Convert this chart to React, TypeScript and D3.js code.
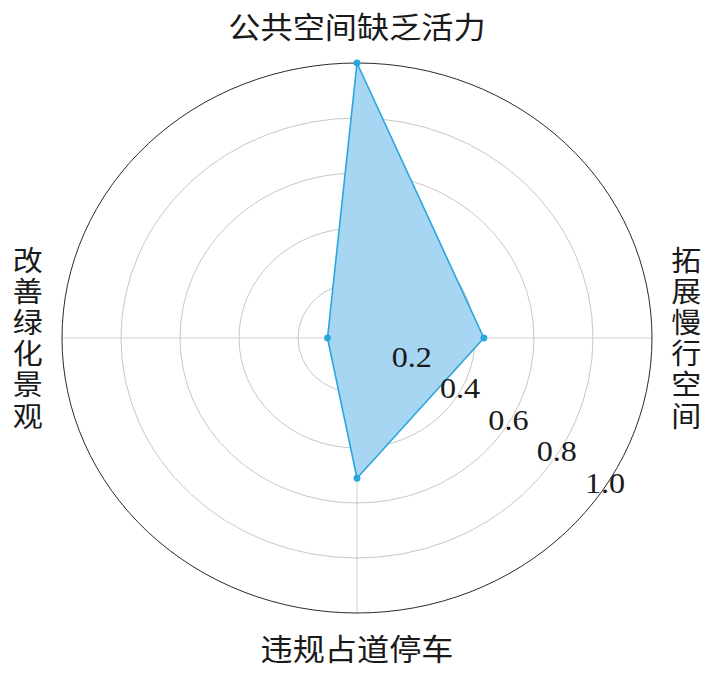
import React from 'react';
import * as d3 from 'd3';

// categories clockwise from the top
const categories = ['公共空间缺乏活力', '拓展慢行空间', '违规占道停车', '改善绿化景观'];
const values = [1.0, 0.43, 0.51, 0.1];
const ringTicks = [0.2, 0.4, 0.6, 0.8, 1.0];
const tickLabels = ['0.2', '0.4', '0.6', '0.8', '1.0'];

const WIDTH = 711;
const HEIGHT = 674;
const CX = 357;
const CY = 338;
const RADIUS = 275;
const STRETCH = 295 / 275; // the reference is a bit wider than tall

const App: React.FC = () => {
  const rScale = d3.scaleLinear().domain([0, 1]).range([0, RADIUS]);
  const angle = d3.scaleBand<string>()
    .domain(categories)
    .range([0, 2 * Math.PI])
    .align(0);
  const angleOf = (c: string) => angle(c) as number;

  const area = d3.lineRadial<number>()
    .angle((_, i) => angleOf(categories[i]))
    .radius(d => rScale(d))
    .curve(d3.curveLinearClosed);

  const labelR = [313, 307, 309, 307];
  const cjk = 'Noto Sans CJK SC, Noto Sans, sans-serif';

  return (
    <svg
      width={WIDTH}
      height={HEIGHT}
      style={{ position: 'absolute', left: 0, top: 0, background: '#fff' }}
    >
      <g transform={`translate(${CX},${CY}) scale(${STRETCH},1)`}>
        {/* spokes */}
        {categories.map(c => {
          const a = angleOf(c);
          return (
            <line
              key={`s-${c}`}
              x1={0}
              y1={0}
              x2={rScale(1) * Math.sin(a)}
              y2={-rScale(1) * Math.cos(a)}
              stroke="#cfcfcf"
              strokeWidth={1}
              vectorEffect="non-scaling-stroke"
            />
          );
        })}

        {/* rings */}
        {ringTicks.map(t => (
          <circle
            key={`r-${t}`}
            r={rScale(t)}
            fill="none"
            stroke={t === 1 ? '#2a2a2a' : '#c8c8c8'}
            strokeWidth={1}
            vectorEffect="non-scaling-stroke"
          />
        ))}

        {/* data polygon */}
        <path
          d={area(values) || ''}
          fill="#a6d6f1"
          stroke="#2aa6df"
          strokeWidth={1.6}
          strokeLinejoin="round"
          vectorEffect="non-scaling-stroke"
        />
        {values.map((v, i) => {
          const a = angleOf(categories[i]);
          return (
            <ellipse
              key={`p-${i}`}
              cx={rScale(v) * Math.sin(a)}
              cy={-rScale(v) * Math.cos(a)}
              rx={3.4 / STRETCH}
              ry={3.4}
              fill="#2aa6df"
            />
          );
        })}

        {/* radial tick labels */}
        {ringTicks.map((t, i) => {
          const th = (35 * Math.PI) / 180;
          return (
            <text
              key={`t-${t}`}
              x={rScale(t) * Math.cos(th) + 6}
              y={rScale(t) * Math.sin(th) - 13}
              textAnchor="middle"
              dominantBaseline="central"
              fontFamily="Liberation Serif, Times New Roman, serif"
              fontSize={30}
              fill="#1a1a1a"
            >
              {tickLabels[i]}
            </text>
          );
        })}

        {/* category labels */}
        {categories.map((c, i) => {
          const a = angleOf(c);
          const r = labelR[i];
          const x = r * Math.sin(a);
          const y = -r * Math.cos(a);
          const vertical = Math.abs(Math.sin(a)) > 0.5;
          if (!vertical) {
            return (
              <text
                key={`c-${c}`}
                x={x}
                y={y}
                textAnchor="middle"
                dominantBaseline="central"
                fontFamily={cjk}
                fontSize={30}
                fill="#1a1a1a"
              >
                {c}
              </text>
            );
          }
          return (
            <text
              key={`c-${c}`}
              x={x}
              y={y + 1.6}
              textAnchor="middle"
              fontFamily={cjk}
              fontSize={28}
              letterSpacing={3.2}
              fill="#1a1a1a"
              style={{ writingMode: 'vertical-rl', textOrientation: 'upright' }}
            >
              {c}
            </text>
          );
        })}
      </g>
    </svg>
  );
};

export default App;
